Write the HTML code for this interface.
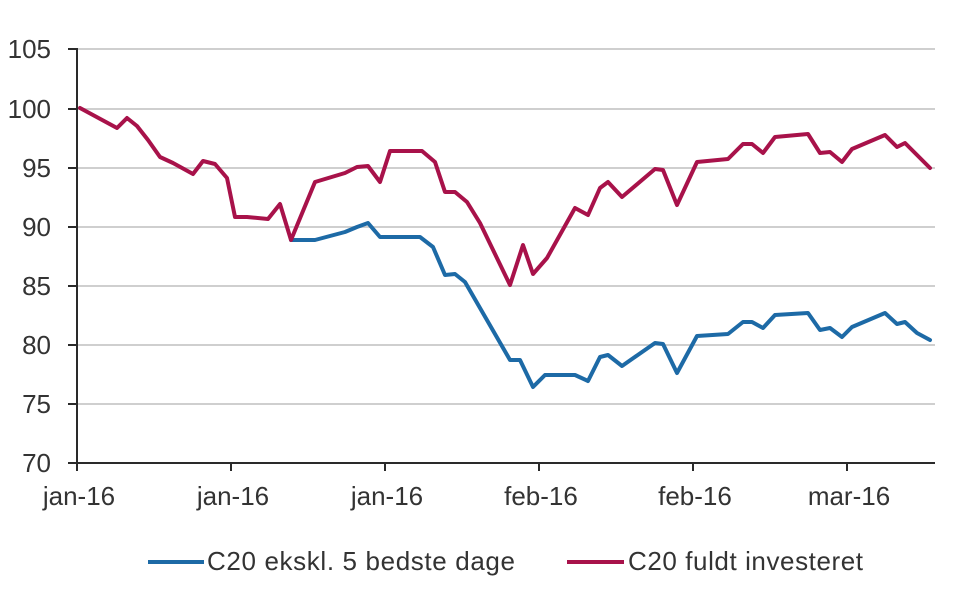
<!DOCTYPE html>
<html>
<head>
<meta charset="utf-8">
<style>
  html,body{margin:0;padding:0;background:#fff;}
  svg{display:block;}
  text{font-family:"Liberation Sans",Arial,sans-serif;fill:#333;}
</style>
</head>
<body>
<svg width="960" height="593" viewBox="0 0 960 593" xmlns="http://www.w3.org/2000/svg">
  <rect width="960" height="593" fill="#fff"/>
  <!-- gridlines -->
  <g stroke="#cfcfcf" stroke-width="2">
    <line x1="77" y1="49" x2="935" y2="49"/>
    <line x1="77" y1="109" x2="935" y2="109"/>
    <line x1="77" y1="168" x2="935" y2="168"/>
    <line x1="77" y1="227" x2="935" y2="227"/>
    <line x1="77" y1="286" x2="935" y2="286"/>
    <line x1="77" y1="345" x2="935" y2="345"/>
    <line x1="77" y1="404" x2="935" y2="404"/>
  </g>
  <!-- axes -->
  <g stroke="#2a2a2a" stroke-width="2">
    <line x1="77" y1="48" x2="77" y2="464"/>
    <line x1="76" y1="463" x2="935" y2="463"/>
    <line x1="68" y1="49" x2="77" y2="49"/>
    <line x1="68" y1="109" x2="77" y2="109"/>
    <line x1="68" y1="168" x2="77" y2="168"/>
    <line x1="68" y1="227" x2="77" y2="227"/>
    <line x1="68" y1="286" x2="77" y2="286"/>
    <line x1="68" y1="345" x2="77" y2="345"/>
    <line x1="68" y1="404" x2="77" y2="404"/>
    <line x1="68" y1="463" x2="77" y2="463"/>
    <line x1="77" y1="463" x2="77" y2="471"/>
    <line x1="231" y1="463" x2="231" y2="471"/>
    <line x1="385" y1="463" x2="385" y2="471"/>
    <line x1="539" y1="463" x2="539" y2="471"/>
    <line x1="693" y1="463" x2="693" y2="471"/>
    <line x1="847" y1="463" x2="847" y2="471"/>
  </g>
  <!-- y labels -->
  <g font-size="26" text-anchor="end">
    <text x="51" y="58">105</text>
    <text x="51" y="118">100</text>
    <text x="51" y="177">95</text>
    <text x="51" y="236">90</text>
    <text x="51" y="295">85</text>
    <text x="51" y="354">80</text>
    <text x="51" y="413">75</text>
    <text x="51" y="472">70</text>
  </g>
  <!-- x labels -->
  <g font-size="26" text-anchor="middle">
    <text x="79" y="505">jan-16</text>
    <text x="233" y="505">jan-16</text>
    <text x="387" y="505">jan-16</text>
    <text x="541" y="505">feb-16</text>
    <text x="695" y="505">feb-16</text>
    <text x="849" y="505">mar-16</text>
  </g>
  <!-- blue series -->
  <polyline fill="none" stroke="#1d6aa6" stroke-width="4" stroke-linejoin="round" stroke-linecap="round"
    points="291,240 315,240 345,232 357,227 368,223 380,237 420,237 433,247 445,275 455,274 465,282 510,360 520,360 533,387 545,375 575,375 588,381 600,357 608,355 622,366 655,343 663,344 677,373 697,336 728,334 743,322 752,322 763,328 775,315 808,313 820,330 830,328 842,337 852,327 885,313 897,324 905,322 917,333 930,340"/>
  <!-- red series -->
  <polyline fill="none" stroke="#a8124a" stroke-width="4" stroke-linejoin="round" stroke-linecap="round"
    points="80,108 117,128 127,118 137,126 148,140 160,157 173,163 193,174 203,161 215,164 227,178 235,217 247,217 268,219 280,204 291,240 315,182 345,173 357,167 368,166 380,182 390,151 422,151 435,162 445,192 455,192 467,202 480,223 510,285 523,245 533,274 547,258 575,208 588,215 600,188 608,182 622,197 655,169 663,170 677,205 697,162 728,159 743,144 752,144 763,153 775,137 808,134 820,153 830,152 842,162 852,149 885,135 897,147 905,143 917,155 930,168"/>
  <!-- legend -->
  <line x1="148" y1="562" x2="204" y2="562" stroke="#1d6aa6" stroke-width="4"/>
  <text x="207" y="570" font-size="26" textLength="308" lengthAdjust="spacing">C20 ekskl. 5 bedste dage</text>
  <line x1="567" y1="562" x2="624" y2="562" stroke="#a8124a" stroke-width="4"/>
  <text x="628" y="570" font-size="26" textLength="235" lengthAdjust="spacing">C20 fuldt investeret</text>
</svg>
</body>
</html>
